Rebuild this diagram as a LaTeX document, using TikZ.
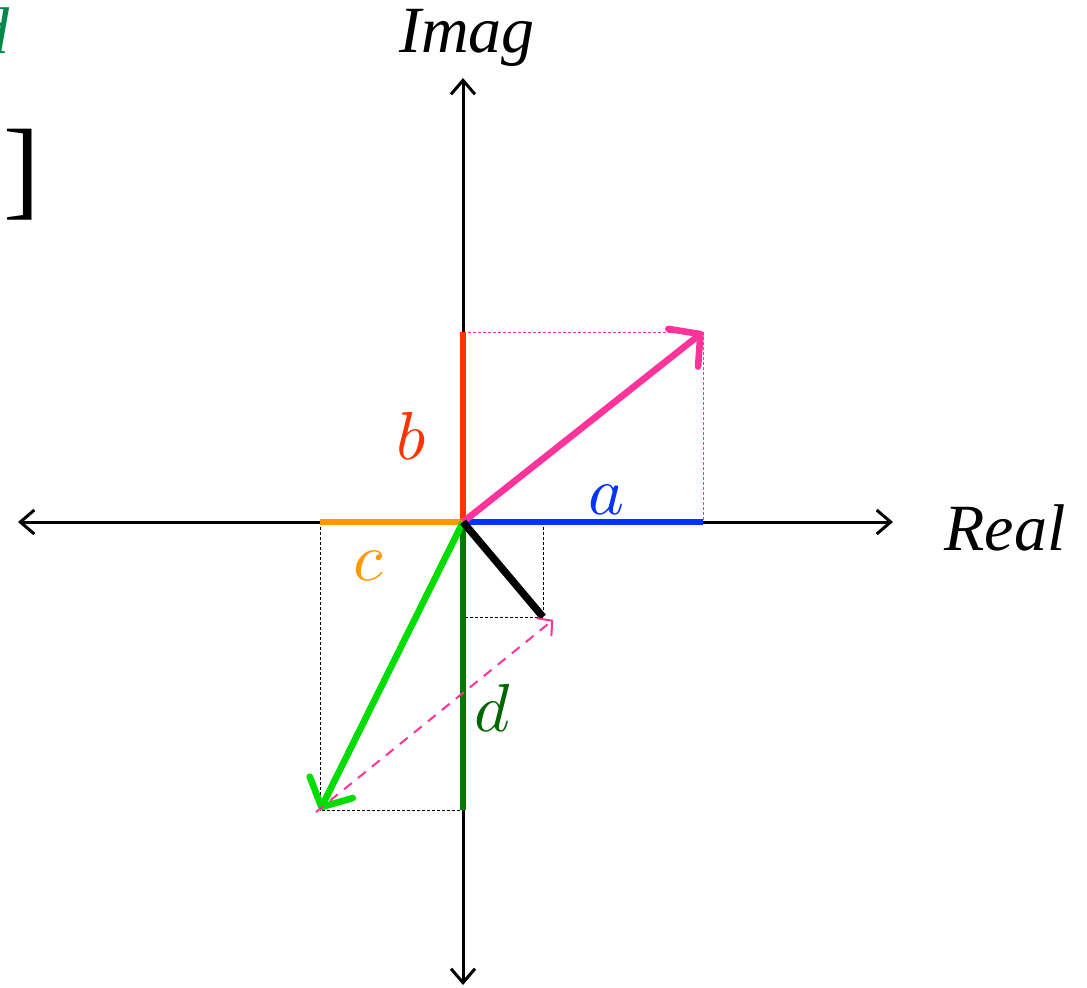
\documentclass[tikz,border=0pt]{standalone}
\usepackage{graphicx}
\usepackage{fontspec}
\setmainfont{Liberation Serif}
\usetikzlibrary{arrows.meta}

\definecolor{partA}{HTML}{0033FF}
\definecolor{partB}{HTML}{FF3300}
\definecolor{partC}{HTML}{FF9900}
\definecolor{partD}{HTML}{007A00}
\definecolor{labD}{HTML}{006600}
\definecolor{sumAB}{HTML}{FF3399}
\definecolor{sumCD}{HTML}{00DD00}
\definecolor{cutG}{HTML}{00884A}
\newcommand{\partlbl}[1]{\scalebox{3.4}{\fontsize{10}{12}\selectfont$#1$}}

\begin{document}
\begin{tikzpicture}[x=0.5pt, y=-0.5pt, >={Straight Barb[length=7pt,width=12pt]},
  axis/.style={line width=1.5pt, <->},
  part/.style={line width=3.3pt},
  vec/.style={line width=3.3pt, -{Straight Barb[round,length=11pt,width=24pt]}},
  guide/.style={line width=0.5pt, dash pattern=on 1.5pt off 1pt},
  lbl/.style={inner sep=0pt, font=\fontsize{33}{40}\selectfont},
  every node/.style={inner sep=0pt}]
\useasboundingbox (0,0) rectangle (1087,987);
% points
\coordinate (O) at (463,522);
\coordinate (xl) at (18,522); \coordinate (xr) at (893,522);
\coordinate (yt) at (463,78); \coordinate (yb) at (463,985);
\coordinate (A) at (703,522); \coordinate (B) at (463,332); \coordinate (P) at (703,332);
\coordinate (C) at (320,522); \coordinate (D) at (463,810); \coordinate (G) at (320,810);
\coordinate (K) at (543,617); \coordinate (Kx) at (543,522); \coordinate (Ky) at (463,617);
\coordinate (Q) at (316,812); \coordinate (R) at (553,620);
% axes
\draw[axis] (xl) -- (xr);
\draw[axis] (yt) -- (yb);
\node[lbl, font=\fontsize{33}{40}\selectfont\itshape] (imag) at (467,38) {Imag};
\node[lbl, font=\fontsize{33}{40}\selectfont\itshape] (real) at (1005,528) {Real};
% guides
\draw[guide, sumAB] (B) -- (P) -- (A);
\draw[guide] (Kx) -- (K) -- (Ky);
\draw[guide] (C) -- (G) -- (D);
% parts
\draw[part, partA] (O) -- (A);
\draw[part, partB] (O) -- (B);
\draw[part, partC] (O) -- (C);
\draw[part, partD] (O) -- (D);
\draw[vec, sumAB] (O) -- (P);
\draw[vec, sumCD] (O) -- (G);
\draw[part, black, line width=3.7pt] (O) -- (K);
\draw[sumAB, line width=1pt, dash pattern=on 5pt off 4pt, -{Straight Barb[round,length=5pt,width=11pt]}] (Q) -- (R);
% labels
\node[lbl, text=partA] (la) at (606,500) {\partlbl{a}};
\node[lbl, text=partB] (lb) at (411,436) {\partlbl{b}};
\node[lbl, text=partC] (lc) at (368,566) {\partlbl{c}};
\node[lbl, text=labD] (ld) at (492,708) {\partlbl{d}};
% cut-off text at the left edge
\node[anchor=base east, text=cutG, font=\fontsize{33}{40}\selectfont\itshape] (cutd) at (10,53) {d};
\node[anchor=base east, font=\fontsize{55}{66}\selectfont] (cuty) at (41,205) {\textit{y}\hspace{2pt}]};
\end{tikzpicture}
\end{document}
